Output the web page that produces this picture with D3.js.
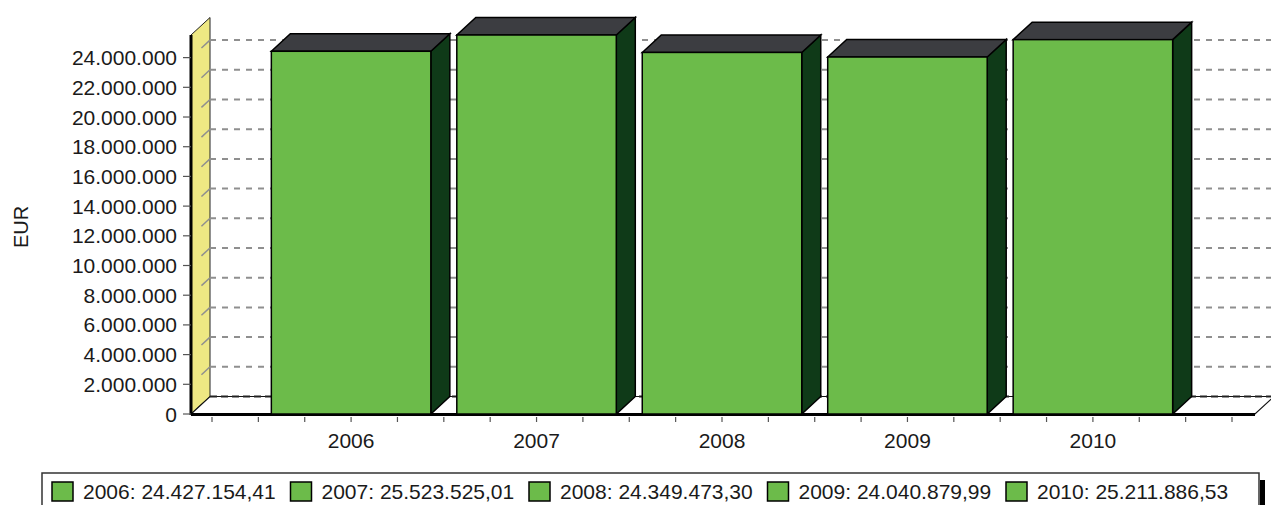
<!DOCTYPE html>
<html>
<head>
<meta charset="utf-8">
<script src="https://cdn.jsdelivr.net/npm/d3@7"></script>
<style>
  html, body { margin: 0; padding: 0; background: #ffffff; }
  svg { display: block; }
  text { font-family: "Liberation Sans", Arial, sans-serif; fill: #1a1a1a; }
</style>
</head>
<body>
<svg id="chart" width="1271" height="505"></svg>
<script>
// Yearly totals in EUR
const years = ["2006", "2007", "2008", "2009", "2010"];
const totals = [24427154.41, 25523525.01, 24349473.30, 24040879.99, 25211886.53];
const yTickValues = [0, 2000000, 4000000, 6000000, 8000000, 10000000, 12000000,
                     14000000, 16000000, 18000000, 20000000, 22000000, 24000000];
const yTitle = "EUR";

const de = d3.formatLocale({ decimal: ",", thousands: ".", grouping: [3], currency: ["", " €"] });
const fmtTick = de.format(",.0f");
const fmtValue = de.format(",.2f");

const svg = d3.select("#chart");
const W = 1271, H = 505;

// 3D depth offset
const DX = 19, DY = -17.5;

// plot area (front plane)
const frontLeft = 191, frontRight = 1255;
const y = d3.scaleLinear().domain([0, d3.max(totals)]).range([414, 35]);
const x = d3.scaleBand().domain(years).range([212, 1232]).paddingInner(0).paddingOuter(0.25);
const barW = x.step() * 0.86;

const C = {
  wall: "#eee883",
  barFront: "#6cbb4a",
  barSide: "#0f3a18",
  barTop: "#3c3d41",
  grid: "#8f8f8f",
};

const poly = pts => pts.map(p => p.join(",")).join(" ");
const y0 = y(0), yMax = y(d3.max(totals));

// left wall
svg.append("polygon")
  .attr("points", poly([[frontLeft, yMax], [frontLeft + DX, yMax + DY], [frontLeft + DX, y0 + DY], [frontLeft, y0]]))
  .attr("fill", C.wall).attr("stroke", "#222").attr("stroke-width", 1);

// floor
svg.append("polygon")
  .attr("points", poly([[frontLeft, y0], [frontLeft + DX, y0 + DY], [frontRight + DX, y0 + DY], [frontRight, y0]]))
  .attr("fill", "#ffffff").attr("stroke", "#111").attr("stroke-width", 1.2);

// back-wall gridlines and their traces across the side wall
const gridVals = yTickValues.filter(v => v > 0);
svg.append("g").selectAll("line").data(gridVals).join("line")
  .attr("x1", frontLeft + DX).attr("x2", W + 5)
  .attr("y1", d => y(d) + DY).attr("y2", d => y(d) + DY)
  .attr("stroke", C.grid).attr("stroke-width", 2).attr("stroke-dasharray", "6,6");
svg.append("g").selectAll("line").data(gridVals).join("line")
  .attr("x1", frontLeft + DX).attr("y1", d => y(d) + DY)
  .attr("x2", frontLeft + DX * 0.55).attr("y2", d => y(d) + DY * 0.55)
  .attr("stroke", C.grid).attr("stroke-width", 1.5);

// floor back edge (zero line)
svg.append("line")
  .attr("x1", frontLeft + DX).attr("x2", W + 5)
  .attr("y1", y0 + DY).attr("y2", y0 + DY)
  .attr("stroke", "#222").attr("stroke-width", 2).attr("stroke-dasharray", "7,4");

// floor front edge
svg.append("line")
  .attr("x1", frontLeft).attr("x2", frontRight)
  .attr("y1", y0 + 0.5).attr("y2", y0 + 0.5)
  .attr("stroke", "#000").attr("stroke-width", 3);

// value axis line (front edge of wall)
svg.append("line")
  .attr("x1", frontLeft).attr("x2", frontLeft)
  .attr("y1", yMax).attr("y2", y0 + 1)
  .attr("stroke", "#000").attr("stroke-width", 3);

// bars
const bars = svg.append("g").selectAll("g").data(years.map((yr, i) => ({ yr, v: totals[i] }))).join("g");
bars.each(function (d) {
  const g = d3.select(this);
  const xl = x(d.yr) + (x.bandwidth() - barW) / 2, xr = xl + barW;
  const yt = y(d.v);
  g.append("polygon")
    .attr("points", poly([[xr, yt], [xr + DX, yt + DY], [xr + DX, y0 + DY], [xr, y0]]))
    .attr("fill", C.barSide).attr("stroke", "#000").attr("stroke-width", 1.5);
  g.append("polygon")
    .attr("points", poly([[xl, yt], [xl + DX, yt + DY], [xr + DX, yt + DY], [xr, yt]]))
    .attr("fill", C.barTop).attr("stroke", "#000").attr("stroke-width", 1.5);
  g.append("rect")
    .attr("x", xl).attr("y", yt).attr("width", barW).attr("height", y0 - yt)
    .attr("fill", C.barFront).attr("stroke", "#000").attr("stroke-width", 1.5);
});

// value axis ticks and labels
const yAxis = svg.append("g");
yAxis.selectAll("line").data(yTickValues).join("line")
  .attr("x1", frontLeft - 8).attr("x2", frontLeft)
  .attr("y1", d => y(d)).attr("y2", d => y(d))
  .attr("stroke", "#555").attr("stroke-width", 1.2);
yAxis.selectAll("text").data(yTickValues).join("text")
  .attr("x", 177).attr("y", d => y(d)).attr("dy", "0.36em")
  .attr("text-anchor", "end").attr("font-size", 21)
  .text(d => fmtTick(d));

// category axis: quarter-step ticks and year labels
const nTicks = Math.round((x.range()[1] - x.range()[0]) / (x.step() / 4));
svg.append("g").selectAll("line").data(d3.range(nTicks + 1)).join("line")
  .attr("x1", k => x.range()[0] + k * x.step() / 4).attr("x2", k => x.range()[0] + k * x.step() / 4)
  .attr("y1", y0 + 3).attr("y2", y0 + 8)
  .attr("stroke", "#555").attr("stroke-width", 1.2);
svg.append("g").selectAll("text").data(years).join("text")
  .attr("x", d => x(d) + x.bandwidth() / 2).attr("y", 448)
  .attr("text-anchor", "middle").attr("font-size", 21)
  .text(d => d);

// axis title
svg.append("text")
  .attr("transform", "translate(28,227) rotate(-90)")
  .attr("text-anchor", "middle").attr("font-size", 20)
  .text(yTitle);

// legend
const lg = svg.append("g");
const lgLeft = 42, lgTop = 473, lgRight = 1259;
lg.append("rect").attr("x", lgRight + 1).attr("y", 480).attr("width", 5).attr("height", 40).attr("fill", "#000");
lg.append("rect").attr("x", lgLeft).attr("y", lgTop).attr("width", lgRight - lgLeft).attr("height", 50)
  .attr("fill", "#fff").attr("stroke", "#333").attr("stroke-width", 1.5);
const pitch = 238.5;
const items = lg.selectAll("g.item").data(years.map((yr, i) => ({ yr, v: totals[i] }))).join("g")
  .attr("class", "item")
  .attr("transform", (d, i) => `translate(${52 + i * pitch},0)`);
items.append("rect").attr("x", 0).attr("y", 482).attr("width", 21).attr("height", 19)
  .attr("fill", C.barFront).attr("stroke", "#000").attr("stroke-width", 1.5);
items.append("text").attr("x", 31).attr("y", 499).attr("font-size", 21)
  .text(d => `${d.yr}: ${fmtValue(d.v)}`);
</script>
</body>
</html>
